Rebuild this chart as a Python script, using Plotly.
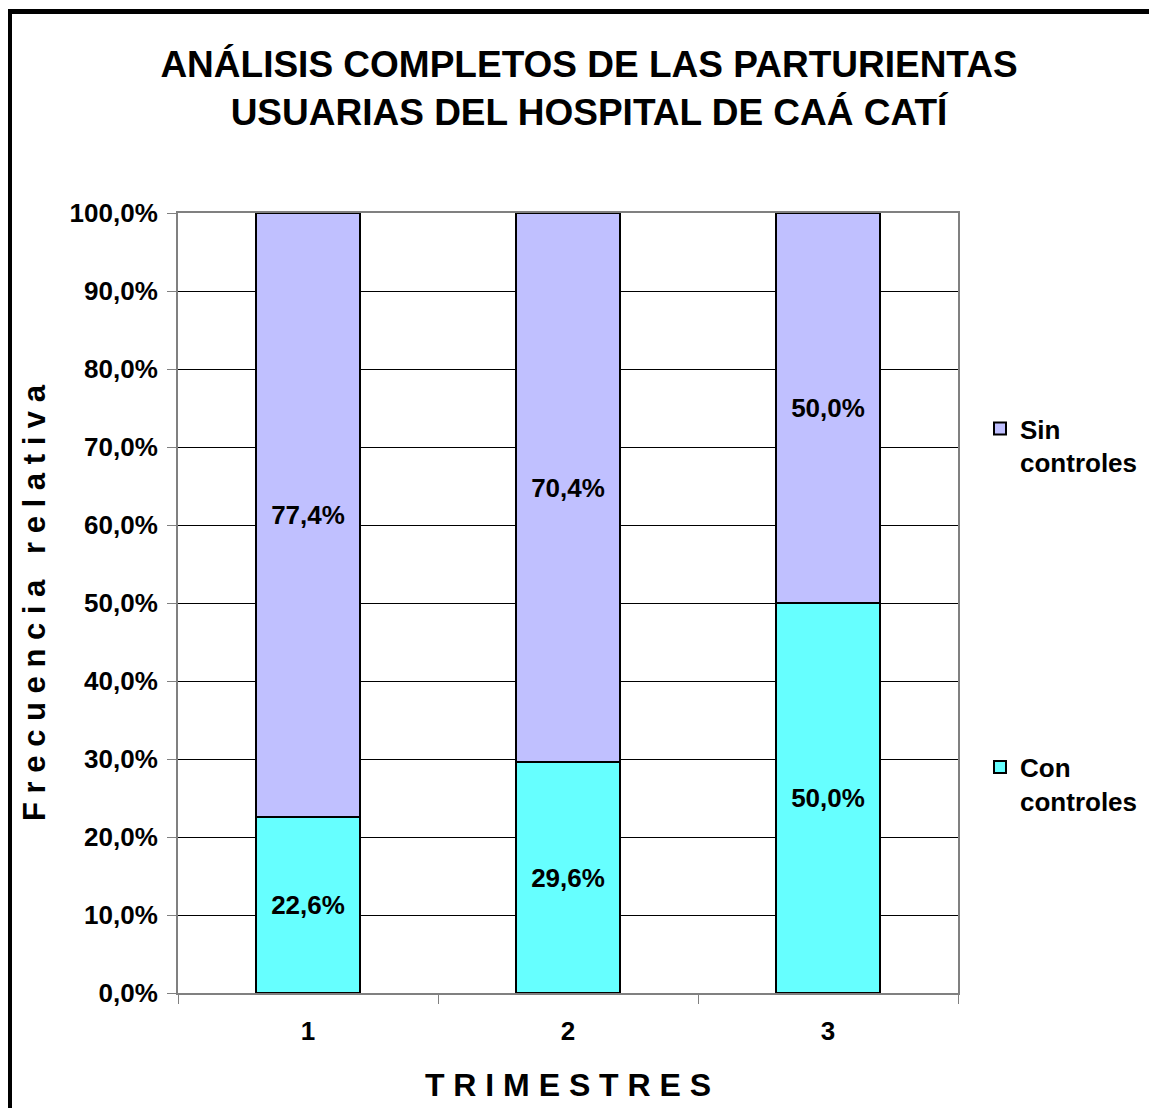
import plotly.graph_objects as go

# ---- data ----
trimestres = ["1", "2", "3"]
con_controles = [22.6, 29.6, 50.0]
sin_controles = [77.4, 70.4, 50.0]
y_ticks = [0, 10, 20, 30, 40, 50, 60, 70, 80, 90, 100]
y_tick_labels = [f"{v:.1f}%".replace(".", ",") for v in y_ticks]

title_text = "ANÁLISIS COMPLETOS DE LAS PARTURIENTAS<br>USUARIAS DEL HOSPITAL DE CAÁ CATÍ"
x_title = "T R I M E S T R E S"
y_title = "F r e c u e n c i a\u00a0\u00a0\u00a0r e l a t i v a"

FONT = "Liberation Sans, Arial, sans-serif"
OFF = 8                      # page body margin
W, H = 1157 - OFF, 1108 - OFF
PL, PR, PT, PB = 178, 958, 213, 993   # plot area in page pixels
L, R, T, B = PL - OFF, 1157 - PR, PT - OFF, 1108 - PB

fig = go.Figure()
fig.add_trace(go.Bar(
    x=trimestres, y=con_controles, name="Con<br>controles",
    marker=dict(color="#66FFFF", line=dict(color="black", width=2)),
    texttemplate="%{y:.1f}%", textposition="inside", insidetextanchor="middle",
    textfont=dict(family=FONT, size=26, color="black", weight="bold"),
    legendgroup="con", legendrank=2,
))
fig.add_trace(go.Bar(
    x=trimestres, y=sin_controles, name="Sin<br>controles",
    marker=dict(color="#C0C0FF", line=dict(color="black", width=2)),
    texttemplate="%{y:.1f}%", textposition="inside", insidetextanchor="middle",
    textfont=dict(family=FONT, size=26, color="black", weight="bold"),
    legendgroup="sin", legendrank=1,
))

pw = PR - PL
ph = PB - PT

def px_x(p):
    return (p - PL) / pw

def px_y(p):
    return (PB - p) / ph

fig.update_layout(
    width=W, height=H, autosize=False,
    margin=dict(l=L, r=R, t=T, b=B),
    paper_bgcolor="white", plot_bgcolor="white",
    barmode="stack", bargap=0.6,
    separators=",.",
    font=dict(family=FONT, color="black", weight="bold"),
    title=dict(
        text=title_text, x=(589 - OFF) / W, xanchor="center", xref="container",
        y=1 - 69 / H, yanchor="middle", yref="container",
        font=dict(family=FONT, size=37, color="black", weight="bold"),
    ),
    showlegend=True,
    legend=dict(
        x=px_x(980), xanchor="left", y=px_y(405), yanchor="top",
        traceorder="grouped", tracegroupgap=268, valign="top",
        font=dict(family=FONT, size=26, color="black", weight="bold"),
        bgcolor="rgba(0,0,0,0)",
    ),
    xaxis=dict(
        type="category", tickson="boundaries",
        showline=True, linecolor="#808080", linewidth=2, mirror=True,
        ticks="outside", ticklen=9, tickcolor="#808080", tickwidth=1,
        showgrid=False, ticklabelstandoff=14,
        tickfont=dict(family=FONT, size=26, color="black", weight="bold"),
        title=dict(text=x_title, standoff=28,
                   font=dict(family=FONT, size=32, color="black", weight="bold")),
        automargin=False,
    ),
    yaxis=dict(
        range=[0, 100], tickmode="array", tickvals=y_ticks, ticktext=y_tick_labels,
        showline=True, linecolor="#808080", linewidth=2, mirror=True,
        ticks="outside", ticklen=9, tickcolor="#808080", tickwidth=1,
        showgrid=True, gridcolor="black", gridwidth=1,
        ticklabelstandoff=4,
        tickfont=dict(family=FONT, size=26, color="black", weight="bold"),
        title=dict(text=y_title, standoff=15,
                   font=dict(family=FONT, size=31, color="black", weight="bold")),
        automargin=False,
    ),
)

# outer chart border (Excel chart area frame)
fig.add_shape(type="rect", xref="paper", yref="paper",
              x0=px_x(9.5), x1=px_x(1157 + 20), y0=px_y(1108 + 20), y1=px_y(11.5),
              line=dict(color="black", width=5), fillcolor="rgba(0,0,0,0)", layer="above")

fig.write_html("out.html")
